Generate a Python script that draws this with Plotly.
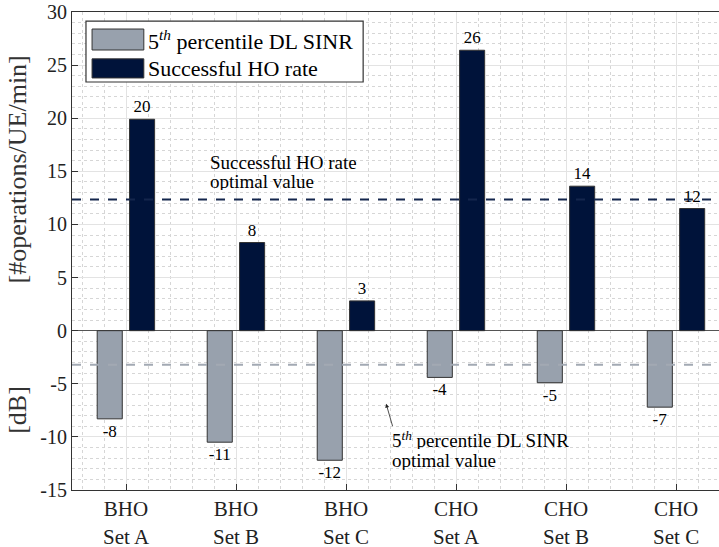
import plotly.graph_objects as go

categories = ["BHO<br>Set A", "BHO<br>Set B", "BHO<br>Set C", "CHO<br>Set A", "CHO<br>Set B", "CHO<br>Set C"]
sinr_values = [-8.3, -10.5, -12.2, -4.4, -4.9, -7.2]
sinr_labels = ["-8", "-11", "-12", "-4", "-5", "-7"]
ho_values = [19.9, 8.3, 2.8, 26.4, 13.6, 11.5]
ho_labels = ["20", "8", "3", "26", "14", "12"]
series_names = ["5<sup><i>th</i></sup> percentile DL SINR", "Successful HO rate"]
ho_optimal = 12.35
sinr_optimal = -3.2
y_ticks = [-15, -10, -5, 0, 5, 10, 15, 20, 25, 30]
y_ticklabels = ["-15", "-10", "-5", "0", "5", "10", "15", "20", "25", "30"]

FONT = "Liberation Serif"
GREY = "#98a1ad"
NAVY = "#00133a"
xpos = list(range(1, len(categories) + 1))

fig = go.Figure()
fig.add_trace(go.Bar(
    x=xpos, y=sinr_values, width=0.228, offset=-0.262,
    marker=dict(color=GREY, line=dict(color="#333333", width=1)),
    text=sinr_labels, textposition="outside", textfont=dict(family=FONT, size=17, color="black"),
    cliponaxis=False, name=series_names[0], showlegend=False))
fig.add_trace(go.Bar(
    x=xpos, y=ho_values, width=0.228, offset=0.032,
    marker=dict(color=NAVY, line=dict(color="#333333", width=1)),
    text=ho_labels, textposition="outside", textfont=dict(family=FONT, size=17, color="black"),
    cliponaxis=False, name=series_names[1], showlegend=False))

# optimal value lines
fig.add_hline(y=ho_optimal, line=dict(color="#14264d", width=2, dash="dash"))
fig.add_hline(y=sinr_optimal, line=dict(color="#a2a9b3", width=2, dash="dash"))

ann_font = dict(family=FONT, size=19, color="black")
for txt, yy in [("Successful HO rate", 15.9), ("optimal value", 14.1)]:
    fig.add_annotation(x=1.745, y=yy, xref="x", yref="y", text=txt, height=18,
                       showarrow=False, xanchor="left", yanchor="middle", align="left", font=ann_font)
for txt, yy in [(series_names[0], -10.2), ("optimal value", -12.2)]:
    fig.add_annotation(x=3.4, y=yy, xref="x", yref="y", text=txt, height=19,
                       showarrow=False, xanchor="left", yanchor="middle", align="left", font=ann_font)
fig.add_annotation(x=3.364, y=-6.87, ax=3.427, ay=-9.13, xref="x", yref="y", axref="x", ayref="y",
                   text="", showarrow=True, arrowhead=2, arrowsize=1, arrowwidth=0.8, arrowcolor="#222222")

# legend (drawn manually to mimic large swatches)
fig.add_shape(type="rect", xref="paper", yref="paper", x0=0.0216, x1=0.450, y0=0.8536, y1=0.981,
              fillcolor="white", line=dict(color="#333333", width=1.2), layer="above")
fig.add_shape(type="rect", xref="paper", yref="paper", x0=0.031, x1=0.111, y0=0.9205, y1=0.9644,
              fillcolor=GREY, line=dict(color="#333333", width=1), layer="above")
fig.add_shape(type="rect", xref="paper", yref="paper", x0=0.031, x1=0.111, y0=0.862, y1=0.902,
              fillcolor=NAVY, line=dict(color="#333333", width=1), layer="above")
leg_font = dict(family=FONT, size=22, color="black")
fig.add_annotation(x=0.114, y=0.942, xref="paper", yref="paper", text=series_names[0], showarrow=False,
                   xanchor="left", yanchor="middle", font=leg_font)
fig.add_annotation(x=0.114, y=0.882, xref="paper", yref="paper", text=series_names[1], showarrow=False,
                   xanchor="left", yanchor="middle", font=leg_font)

# y-axis titles
ytitle_font = dict(family=FONT, size=26, color="#333333")
fig.add_annotation(x=-0.084, y=0.67, xref="paper", yref="paper", text="[#operations/UE/min]", textangle=-90,
                   showarrow=False, xanchor="center", yanchor="middle", font=ytitle_font)
fig.add_annotation(x=-0.084, y=0.167, xref="paper", yref="paper", text="[dB]", textangle=-90,
                   showarrow=False, xanchor="center", yanchor="middle", font=ytitle_font)

fig.update_layout(
    width=719, height=547, margin=dict(l=72, r=0, t=12, b=57, autoexpand=False),
    plot_bgcolor="white", paper_bgcolor="white", barmode="overlay",
    font=dict(family=FONT, size=18, color="#222222"),
    xaxis=dict(range=[0.509, 6.39], tickvals=xpos, ticktext=categories, automargin=False,
               showgrid=True, gridcolor="#e3e3e3", gridwidth=1,
               showline=True, linecolor="#333333", linewidth=1, mirror=True,
               ticks="inside", ticklen=6, tickcolor="#333333",
               minor=dict(dtick=0.2, tick0=1, showgrid=True, gridcolor="#d6d6d6", griddash="dot", gridwidth=1),
               tickfont=dict(family=FONT, size=21, color="#222222"), zeroline=False),
    yaxis=dict(range=[-15, 30], tickvals=y_ticks, ticktext=y_ticklabels, automargin=False,
               showgrid=True, gridcolor="#e3e3e3", gridwidth=1,
               showline=True, linecolor="#333333", linewidth=1,
               ticks="inside", ticklen=6, tickcolor="#333333",
               minor=dict(dtick=1, showgrid=True, gridcolor="#d6d6d6", griddash="dot", gridwidth=1),
               zeroline=True, zerolinecolor="#555555", zerolinewidth=1.2,
               tickfont=dict(family=FONT, size=20, color="#222222")),
)

# remove the default 8px page margin so the figure fills the window
fig.write_html("out.html", config={"displayModeBar": False},
               post_script="document.body.style.margin='0';")
